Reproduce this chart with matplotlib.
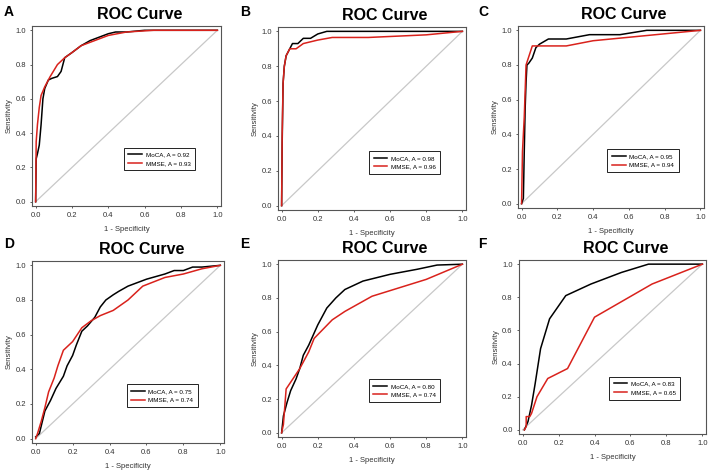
import numpy as np
from matplotlib import pyplot as plt

plt.rcParams['font.family'] = ['Liberation Sans', 'DejaVu Sans']

# ROC points: (1 - specificity, sensitivity)
a_moca_x = [0, 0.003, 0.01, 0.02, 0.03, 0.04, 0.05, 0.07, 0.09, 0.12, 0.14, 0.16, 0.2, 0.25, 0.3, 0.35, 0.4, 0.44, 0.5, 0.6, 1.0]
a_moca_y = [0, 0.25, 0.28, 0.33, 0.45, 0.6, 0.66, 0.71, 0.72, 0.73, 0.76, 0.84, 0.87, 0.91, 0.94, 0.96, 0.98, 0.99, 0.99, 1.0, 1.0]
a_mmse_x = [0, 0.003, 0.01, 0.02, 0.03, 0.05, 0.08, 0.12, 0.16, 0.2, 0.25, 0.3, 0.35, 0.4, 0.5, 0.65, 1.0]
a_mmse_y = [0, 0.35, 0.45, 0.55, 0.62, 0.67, 0.73, 0.8, 0.84, 0.87, 0.91, 0.93, 0.95, 0.97, 0.99, 1.0, 1.0]

b_moca_x = [0, 0.003, 0.008, 0.015, 0.025, 0.04, 0.06, 0.09, 0.12, 0.16, 0.2, 0.25, 1.0]
b_moca_y = [0, 0.35, 0.7, 0.8, 0.86, 0.89, 0.93, 0.93, 0.96, 0.96, 0.985, 1.0, 1.0]
b_mmse_x = [0, 0.003, 0.008, 0.015, 0.025, 0.045, 0.08, 0.12, 0.2, 0.28, 0.48, 0.8, 1.0]
b_mmse_y = [0, 0.4, 0.7, 0.8, 0.86, 0.9, 0.9, 0.93, 0.95, 0.965, 0.965, 0.98, 1.0]

c_moca_x = [0, 0.01, 0.015, 0.02, 0.025, 0.03, 0.04, 0.06, 0.08, 0.1, 0.15, 0.25, 0.38, 0.55, 0.7, 1.0]
c_moca_y = [0, 0.03, 0.3, 0.55, 0.7, 0.8, 0.81, 0.84, 0.9, 0.92, 0.95, 0.95, 0.975, 0.975, 1.0, 1.0]
c_mmse_x = [0, 0.005, 0.015, 0.025, 0.06, 0.25, 0.4, 1.0]
c_mmse_y = [0, 0.3, 0.5, 0.8, 0.91, 0.91, 0.94, 1.0]

d_moca_x = [0, 0.02, 0.05, 0.08, 0.11, 0.15, 0.17, 0.2, 0.22, 0.25, 0.28, 0.32, 0.35, 0.38, 0.42, 0.45, 0.5, 0.6, 0.7, 0.75, 0.8, 0.85, 0.9, 1.0]
d_moca_y = [0.01, 0.03, 0.16, 0.22, 0.29, 0.36, 0.42, 0.48, 0.54, 0.62, 0.65, 0.7, 0.76, 0.8, 0.83, 0.85, 0.88, 0.92, 0.95, 0.97, 0.97, 0.99, 0.99, 1.0]
d_mmse_x = [0, 0.01, 0.03, 0.05, 0.07, 0.1, 0.12, 0.15, 0.2, 0.25, 0.3, 0.35, 0.42, 0.5, 0.58, 0.7, 0.8, 0.9, 1.0]
d_mmse_y = [0, 0.03, 0.1, 0.18, 0.27, 0.35, 0.42, 0.51, 0.56, 0.64, 0.68, 0.71, 0.74, 0.8, 0.88, 0.93, 0.95, 0.98, 1.0]

e_moca_x = [0, 0.01, 0.03, 0.05, 0.08, 0.1, 0.12, 0.15, 0.2, 0.25, 0.3, 0.35, 0.45, 0.6, 0.75, 0.86, 1.0]
e_moca_y = [0, 0.1, 0.18, 0.25, 0.32, 0.38, 0.46, 0.52, 0.64, 0.74, 0.8, 0.85, 0.9, 0.94, 0.97, 0.995, 1.0]
e_mmse_x = [0, 0.01, 0.025, 0.05, 0.1, 0.15, 0.18, 0.28, 0.35, 0.5, 0.65, 0.8, 1.0]
e_mmse_y = [0, 0.05, 0.26, 0.3, 0.38, 0.48, 0.56, 0.67, 0.72, 0.81, 0.86, 0.91, 1.0]

f_moca_x = [0.01, 0.03, 0.05, 0.07, 0.1, 0.15, 0.24, 0.38, 0.55, 0.7, 1.0]
f_moca_y = [0.0, 0.05, 0.15, 0.28, 0.49, 0.67, 0.81, 0.88, 0.95, 1.0, 1.0]
f_mmse_x = [0.01, 0.02, 0.02, 0.04, 0.05, 0.08, 0.14, 0.25, 0.4, 0.72, 1.0]
f_mmse_y = [0.0, 0.02, 0.08, 0.08, 0.1, 0.2, 0.31, 0.37, 0.68, 0.88, 1.0]

panels = ['A', 'B', 'C', 'D', 'E', 'F']
auc_moca = ['0.92', '0.98', '0.95', '0.75', '0.80', '0.83']
auc_mmse = ['0.93', '0.96', '0.94', '0.74', '0.74', '0.65']
moca = [(a_moca_x, a_moca_y), (b_moca_x, b_moca_y), (c_moca_x, c_moca_y),
        (d_moca_x, d_moca_y), (e_moca_x, e_moca_y), (f_moca_x, f_moca_y)]
mmse = [(a_mmse_x, a_mmse_y), (b_mmse_x, b_mmse_y), (c_mmse_x, c_mmse_y),
        (d_mmse_x, d_mmse_y), (e_mmse_x, e_mmse_y), (f_mmse_x, f_mmse_y)]

W, H = 708, 473
# axes boxes in pixels: left, top, right, bottom
boxes = [(32, 26, 221, 206), (278, 27, 466, 210), (518, 26, 704, 208),
         (32, 261, 224, 443), (278, 260, 466, 437), (519, 260, 706, 434)]
label_pos = [(4, 12), (240, 12), (478, 12), (4, 244), (240, 244), (478, 244)]

fig = plt.figure(figsize=(W / 100, H / 100), dpi=100)

for i in range(6):
    l, t, r, b = boxes[i]
    ax = fig.add_axes([l / W, 1 - b / H, (r - l) / W, (b - t) / H])
    ax.plot([0, 1], [0, 1], color='#c8c8c8', lw=0.9)
    ax.plot(moca[i][0], moca[i][1], color='black', lw=1.1, label='MoCA, A = ' + auc_moca[i])
    ax.plot(mmse[i][0], mmse[i][1], color='#d9221c', lw=1.1, label='MMSE, A = ' + auc_mmse[i])
    ax.set_xlim(-0.02, 1.02)
    ax.set_ylim(-0.025, 1.025)
    ax.set_xticks(np.arange(0, 1.01, 0.2))
    ax.set_yticks(np.arange(0, 1.01, 0.2))
    ax.xaxis.set_major_formatter('{x:.1f}')
    ax.yaxis.set_major_formatter('{x:.1f}')
    ax.tick_params(labelsize=5.5, length=1.5, width=0.6, color='#444444', labelcolor='#333333', pad=3)
    for s in ax.spines.values():
        s.set_color('#555555')
        s.set_linewidth(0.8)
    ax.set_xlabel('1 - Specificity', fontsize=5.5, color='#333333', labelpad=5)
    ax.set_ylabel('Sensitivity', fontsize=5.5, color='#333333', labelpad=1.5)
    ax.set_title('ROC Curve', fontsize=11.5, fontweight='bold', x=0.57, pad=5)
    leg = ax.legend(loc='lower right', bbox_to_anchor=(0.88, 0.18), fontsize=4.5,
                    fancybox=False, framealpha=1, edgecolor='#222222',
                    handlelength=2.2, borderpad=0.7, labelspacing=0.5, handletextpad=0.6)
    leg.get_frame().set_linewidth(0.7)
    fig.text(label_pos[i][0] / W, 1 - label_pos[i][1] / H, panels[i],
             fontsize=10, fontweight='bold', va='center', ha='left')

fig.savefig('out.png', dpi=100)
